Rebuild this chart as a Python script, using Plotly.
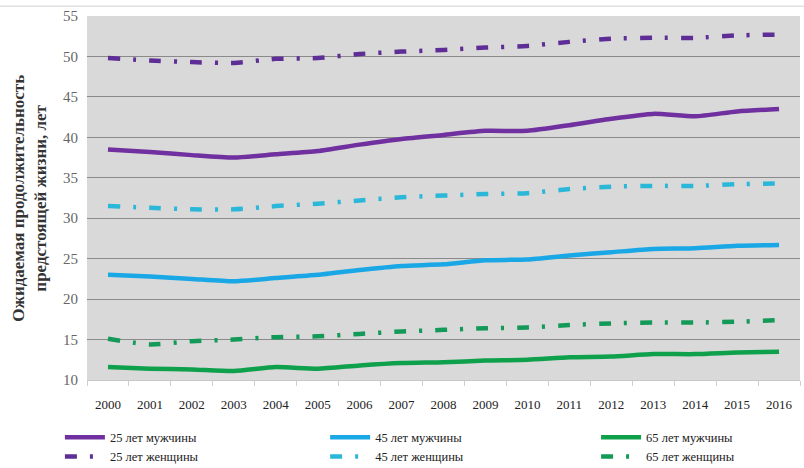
import plotly.graph_objects as go

years = [str(y) for y in range(2000, 2017)]

men_25 = [38.5, 38.2, 37.8, 37.5, 37.9, 38.3, 39.1, 39.8, 40.3, 40.8, 40.8, 41.5, 42.3, 42.9, 42.6, 43.2, 43.5]
women_25 = [49.8, 49.5, 49.3, 49.2, 49.7, 49.8, 50.3, 50.6, 50.8, 51.1, 51.3, 51.8, 52.2, 52.3, 52.3, 52.6, 52.7]
men_45 = [23.0, 22.8, 22.5, 22.2, 22.6, 23.0, 23.6, 24.1, 24.3, 24.8, 24.9, 25.4, 25.8, 26.2, 26.3, 26.6, 26.7]
women_45 = [31.5, 31.3, 31.1, 31.1, 31.5, 31.8, 32.2, 32.6, 32.8, 33.0, 33.1, 33.6, 33.9, 34.0, 34.0, 34.2, 34.3]
men_65 = [11.6, 11.4, 11.3, 11.1, 11.6, 11.4, 11.8, 12.1, 12.2, 12.4, 12.5, 12.8, 12.9, 13.2, 13.2, 13.4, 13.5]
women_65 = [15.1, 14.4, 14.8, 15.0, 15.3, 15.4, 15.7, 16.0, 16.2, 16.4, 16.5, 16.8, 17.0, 17.1, 17.1, 17.2, 17.4]

series = [
    ("25 лет мужчины", men_25, "#7030A0", "solid", "legend"),
    ("25 лет женщины", women_25, "#5E2E96", "dashdot", "legend"),
    ("45 лет мужчины", men_45, "#1AA7E6", "solid", "legend2"),
    ("45 лет женщины", women_45, "#2BB8D8", "dashdot", "legend2"),
    ("65 лет мужчины", men_65, "#0FA04C", "solid", "legend3"),
    ("65 лет женщины", women_65, "#139A58", "dashdot", "legend3"),
]

serif = "Liberation Serif, Times New Roman, serif"
dashdot = "12px,13px,3px,13px"

fig = go.Figure()
for name, vals, color, style, leg in series:
    fig.add_trace(go.Scatter(
        x=years, y=vals, name=name, mode="lines",
        line=dict(color=color, width=4.5, shape="spline", smoothing=0.6,
                  dash="solid" if style == "solid" else dashdot),
        legend=leg,
    ))

# legends placed in container coordinates so they do not push the plot margins
leg_common = dict(orientation="v", yref="container", yanchor="top", y=0.097,
                  xanchor="left", font=dict(family=serif, size=12.5, color="#222"),
                  bgcolor="rgba(0,0,0,0)", tracegroupgap=0, itemwidth=40)

fig.update_layout(
    width=804, height=468,
    margin=dict(l=87, r=4, t=16, b=88),
    paper_bgcolor="white",
    plot_bgcolor="#D9D9D9",
    legend=dict(x=-0.038, **leg_common),
    legend2=dict(x=0.334, **leg_common),
    legend3=dict(x=0.714, **leg_common),
    xaxis=dict(
        type="category", range=[-0.5, 16.5], showgrid=False, tickson="boundaries",
        ticks="outside", ticklen=5, tickcolor="#D8C8D0", ticklabelstandoff=12,
        showline=True, linecolor="#C8C8C8",
        tickfont=dict(family=serif, size=13, color="#222"),
    ),
    yaxis=dict(
        range=[10, 55], dtick=5, showgrid=True, gridcolor="#8A8A8A", gridwidth=1,
        zeroline=False, ticks="", ticklabelstandoff=8,
        tickfont=dict(family=serif, size=15, color="#666666"),
    ),
    annotations=[dict(
        text="<b>Ожидаемая продолжительность<br>предстоящей жизни, лет</b>",
        textangle=-90, xref="paper", yref="paper", x=-0.05, y=0.5,
        xanchor="right", yanchor="middle", showarrow=False,
        font=dict(family=serif, size=17, color="#333"),
    )],
    shapes=[dict(type="line", xref="paper", yref="paper", x0=-0.13, x1=1.01,
                 y0=1.027, y1=1.027, line=dict(color="#D0D0D0", width=1))],
)

fig.write_html("out.html", config={"displayModeBar": False},
               post_script="document.body.style.margin='0px';")
